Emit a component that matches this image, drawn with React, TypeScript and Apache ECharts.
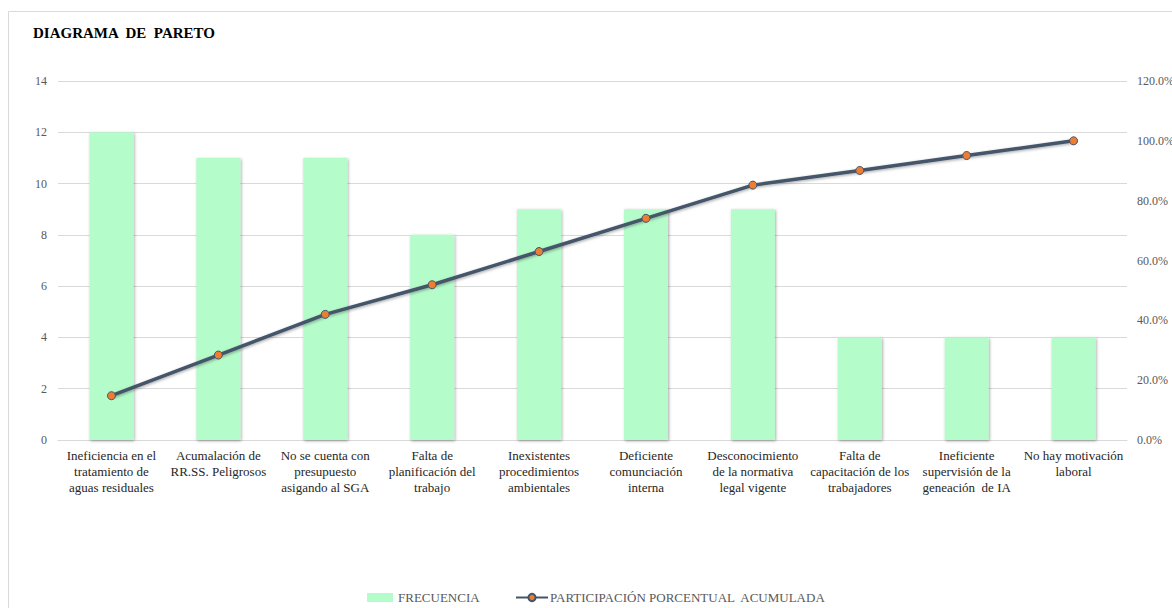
import React, { useEffect, useRef } from "react";
import * as echarts from "echarts";

const categories = [
  "Ineficiencia en el\ntratamiento de\naguas residuales",
  "Acumalación de\nRR.SS. Peligrosos",
  "No se cuenta con\npresupuesto\nasigando al SGA",
  "Falta de\nplanificación del\ntrabajo",
  "Inexistentes\nprocedimientos\nambientales",
  "Deficiente\ncomunciación\ninterna",
  "Desconocimiento\nde la normativa\nlegal vigente",
  "Falta de\ncapacitación de los\ntrabajadores",
  "Ineficiente\nsupervisión de la\ngeneación  de IA",
  "No hay motivación\nlaboral",
];
const frecuencia = [12, 11, 11, 8, 9, 9, 9, 4, 4, 4];
const acumulada = [14.8, 28.4, 42.0, 51.9, 63.0, 74.1, 85.2, 90.1, 95.1, 100.0];

const FONT = "Liberation Serif";
const BAR_NAME = "FRECUENCIA";
const LINE_NAME = "PARTICIPACIÓN PORCENTUAL  ACUMULADA";

export default function App() {
  const ref = useRef<HTMLDivElement>(null);
  useEffect(() => {
    document.body.style.margin = "0";
    const chart = echarts.init(ref.current!, null, { renderer: "svg" });
    chart.setOption({
      animation: false,
      textStyle: { fontFamily: FONT },
      title: {
        text: "DIAGRAMA  DE  PARETO",
        left: 28,
        top: 20,
        textStyle: { fontFamily: FONT, fontSize: 15, fontWeight: "bold", color: "#000" },
      },
      graphic: [
        {
          type: "rect",
          shape: { x: 8.5, y: 11.5, width: 1200, height: 700 },
          style: { fill: "none", stroke: "#d9d9d9", lineWidth: 1 },
          silent: true,
        },
      ],
      legend: [
        {
          left: 362,
          top: 586,
          itemWidth: 26,
          itemHeight: 9,
          textStyle: { fontFamily: FONT, fontSize: 13, color: "#595959" },
          data: [{ name: BAR_NAME, icon: "rect", itemStyle: { color: "#b5fccb" } }],
        },
        {
          left: 510,
          top: 586,
          itemWidth: 32,
          itemHeight: 9,
          textStyle: { fontFamily: FONT, fontSize: 13, color: "#595959", padding: [0, 0, 0, -3] },
          data: [{ name: LINE_NAME }],
        },
      ],
      grid: {
        left: 58,
        right: 45,
        top: 81,
        bottom: 168,
        containLabel: false,
        outerBoundsMode: "none",
      },
      xAxis: {
        type: "category",
        data: categories,
        axisTick: { show: false },
        axisLine: { lineStyle: { color: "#d9d9d9" } },
        axisLabel: {
          interval: 0,
          margin: 7,
          fontFamily: FONT,
          fontSize: 13,
          color: "#262626",
          lineHeight: 16,
          align: "center",
          hideOverlap: false,
        },
      },
      yAxis: [
        {
          type: "value",
          min: 0,
          max: 14,
          interval: 2,
          axisLine: { show: false },
          axisTick: { show: false },
          splitLine: { lineStyle: { color: "#d9d9d9" } },
          axisLabel: { margin: 11, fontFamily: FONT, fontSize: 12, color: "#595959" },
        },
        {
          type: "value",
          min: 0,
          max: 120,
          interval: 20,
          axisLine: { show: false },
          axisTick: { show: false },
          splitLine: { show: false },
          axisLabel: {
            margin: 10,
            fontFamily: FONT,
            fontSize: 12,
            color: "#595959",
            formatter: (v: number) => v.toFixed(1) + "%",
          },
        },
      ],
      series: [
        {
          name: BAR_NAME,
          type: "bar",
          data: frecuencia,
          barWidth: 44,
          itemStyle: {
            color: "#b5fccb",
            shadowColor: "rgba(0,0,0,0.35)",
            shadowBlur: 3,
            shadowOffsetX: 1,
            shadowOffsetY: 1,
          },
        },
        {
          name: LINE_NAME,
          type: "line",
          yAxisIndex: 1,
          data: acumulada,
          symbol: "circle",
          symbolSize: 8,
          lineStyle: {
            color: "#44546a",
            width: 3.5,
            shadowColor: "rgba(0,0,0,0.35)",
            shadowBlur: 3,
            shadowOffsetX: 1,
            shadowOffsetY: 1,
          },
          itemStyle: { color: "#ed7d31", borderColor: "#44546a", borderWidth: 1 },
        },
      ],
    });
    return () => chart.dispose();
  }, []);
  return <div ref={ref} style={{ width: 1172, height: 608 }} />;
}
